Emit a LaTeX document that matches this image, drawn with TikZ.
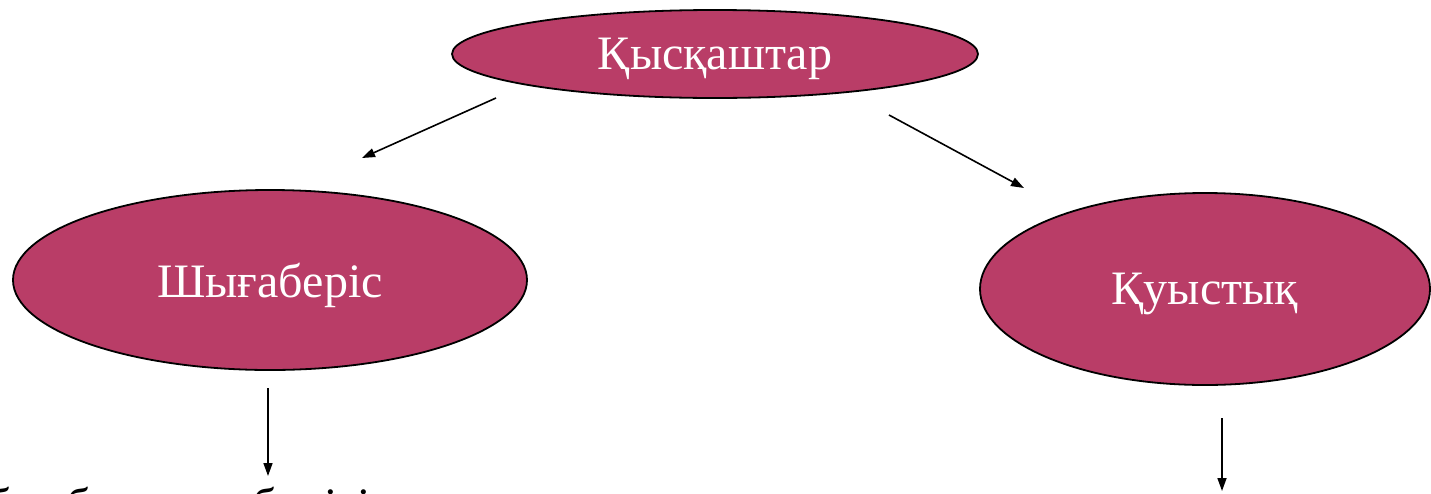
\documentclass[tikz,border=0pt]{standalone}
\usepackage{fontspec}
\setmainfont{Liberation Serif}
\usetikzlibrary{shapes.geometric,arrows.meta}
\definecolor{bubble}{HTML}{B93D67}
\newcommand{\lowered}[1]{\raisebox{-5pt}[\height][\depth]{#1}}
\tikzset{
  bubble/.style={ellipse,draw=black,line width=1.8pt,fill=bubble,text=white,inner sep=0pt,
    font=\fontsize{48}{56}\selectfont},
  link/.style={line width=1.6pt,-{Triangle[length=13pt,width=9pt]}},
  cut/.style={anchor=base west,inner sep=0pt,font=\fontsize{48}{56}\selectfont}
}
\begin{document}
\begin{tikzpicture}[x=1pt,y=-1pt]
\useasboundingbox (0,0) rectangle (1431,493);
\fill[white] (0,0) rectangle (1431,493);
\node[bubble,minimum width=526pt,minimum height=88pt] (top) at (715,54) {\lowered{Қысқаштар}};
\node[bubble,minimum width=514pt,minimum height=180pt] (left) at (270,280) {\lowered{Шығаберіс}};
\node[bubble,minimum width=450pt,minimum height=192pt] (right) at (1205,289) {\lowered{Қуыстық}};
\coordinate (a1) at (496,98);
\coordinate (a2) at (362,158);
\coordinate (b1) at (889,115);
\coordinate (b2) at (1024,188);
\coordinate (c1) at (268,388);
\coordinate (c2) at (268,476);
\coordinate (d1) at (1222,418);
\coordinate (d2) at (1222,491);
\draw[link] (a1) -- (a2);
\draw[link] (b1) -- (b2);
\draw[link] (c1) -- (c2);
\draw[link] (d1) -- (d2);
\begin{scope}
\clip (0,0) rectangle (1431,493);
\node[cut] (bottom) at (-13,521) {бас буындар бөлігі};
\end{scope}
\end{tikzpicture}
\end{document}
